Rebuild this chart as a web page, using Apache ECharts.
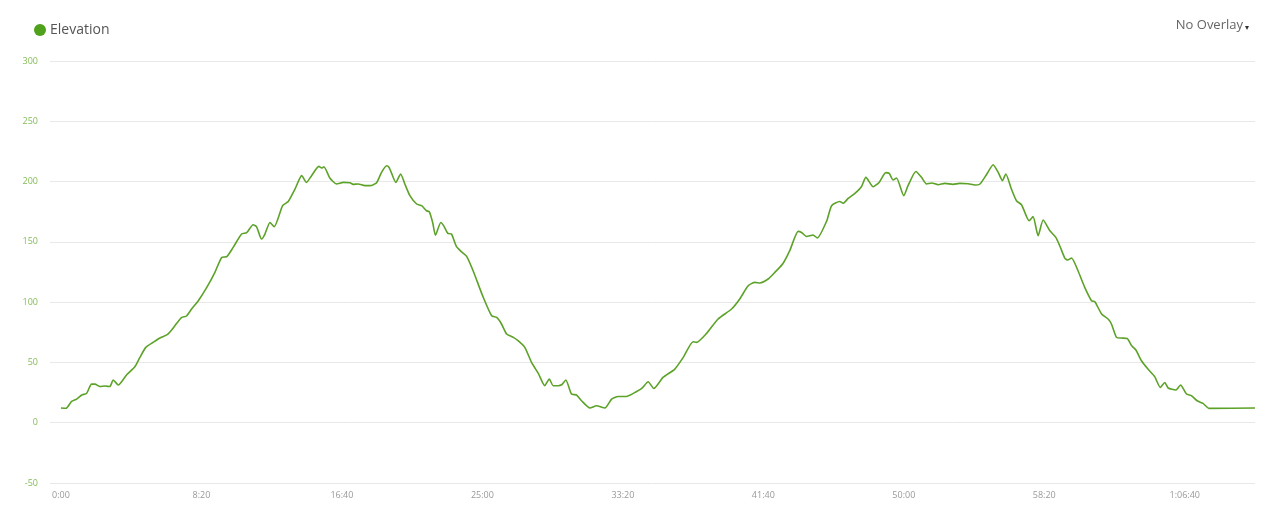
<!DOCTYPE html>
<html>
<head>
<meta charset="utf-8">
<script src="https://cdn.jsdelivr.net/npm/echarts@6/dist/echarts.min.js"></script>
<style>
  html, body { margin: 0; padding: 0; background: #fff; }
  #chart { width: 1280px; height: 512px; }
</style>
</head>
<body>
<div id="chart"></div>
<script>
// elapsed time (seconds) and elevation (m)
var times = [
  0, 18, 38, 56, 74, 91, 109, 121, 139, 157, 174, 186, 204, 234, 263, 281, 302, 328, 352, 378,
  394, 412, 430, 447, 465, 489, 519, 548, 572, 590, 613, 643, 661, 684, 696, 714, 726, 744, 759, 789,
  809, 833, 857, 874, 892, 918, 928, 936, 957, 981, 1005, 1029, 1040, 1058, 1082, 1106, 1124, 1141, 1159, 1168,
  1177, 1192, 1209, 1224, 1242, 1266, 1284, 1301, 1311, 1323, 1333, 1352, 1363, 1377, 1390, 1408, 1427, 1444, 1467, 1503,
  1533, 1551, 1568, 1586, 1610, 1627, 1651, 1675, 1699, 1722, 1738, 1752, 1770, 1782, 1797, 1817, 1835, 1853, 1883, 1906,
  1936, 1960, 1983, 2013, 2037, 2067, 2090, 2110, 2143, 2185, 2215, 2250, 2262, 2298, 2339, 2387, 2416, 2446, 2470, 2488,
  2517, 2541, 2570, 2594, 2624, 2636, 2654, 2677, 2692, 2725, 2743, 2772, 2784, 2802, 2826, 2849, 2865, 2891, 2912, 2936,
  2948, 2962, 2974, 3000, 3015, 3043, 3063, 3081, 3099, 3122, 3146, 3175, 3199, 3229, 3253, 3271, 3294, 3318, 3336, 3351,
  3363, 3383, 3401, 3419, 3446, 3460, 3478, 3496, 3520, 3541, 3555, 3573, 3583, 3597, 3620, 3644, 3668, 3680, 3704, 3727,
  3739, 3757, 3775, 3795, 3811, 3826, 3846, 3869, 3893, 3913, 3929, 3941, 3968, 3985, 4006, 4024, 4044, 4065, 4087, 4250
];
var elevation = [
  12.2, 12, 17.7, 19.6, 23, 24.3, 32, 32, 30, 30.4, 30, 35.4, 31.3, 39.8, 46.4, 54.2, 62.5, 66.6, 70.2, 73,
  76.9, 82.4, 87.3, 88.5, 94.3, 101.2, 112.2, 124.7, 137.1, 137.7, 145.4, 156.5, 157.6, 164.2, 162.6, 152.4, 156.5, 166.1, 162.6, 180,
  183.5, 193.8, 204.9, 199.3, 204.9, 212.6, 211.2, 212.3, 203, 198, 199.3, 199, 197.7, 198, 196.6, 196.8, 199.3, 207.6, 213.1, 211.7,
  206.8, 199.3, 206.3, 198, 188.3, 181.4, 180, 175.8, 175, 166, 155.5, 166, 163, 157, 156.5, 146, 141.5, 138, 126, 104,
  88.7, 87.3, 81.9, 73.6, 70.8, 68, 62.5, 50, 40.9, 30.7, 36.2, 30.7, 30.7, 31.5, 35.4, 23.8, 23, 18.2, 12.2, 14.1,
  12.2, 19.6, 21.8, 21.8, 24.3, 28.4, 34, 28.4, 37.6, 44.5, 54.2, 67.2, 66.6, 74.1, 86, 94.3, 102.6, 113.6, 116.4, 115.9,
  119.2, 124.7, 132.1, 142.7, 158.7, 157.8, 154.5, 155.7, 153.2, 167, 180, 183.5, 182, 186, 190.2, 195.7, 203.5, 195.7, 199.3, 207.4,
  206.8, 201.3, 203, 188.3, 196.6, 208.4, 203.5, 198, 198.8, 197.4, 198.5, 197.7, 198.5, 198.2, 197.1, 198, 205.7, 214, 207.6, 200.7,
  206.3, 193.8, 184.1, 180.8, 167.5, 170.9, 155.1, 168.1, 159.2, 153.7, 146.8, 136.6, 134.9, 136.6, 126, 112.2, 101.2, 100.4, 90.2, 86,
  81.9, 70.8, 70.2, 69.9, 63.9, 60.3, 51.4, 44.5, 38.2, 29.3, 33.4, 28.8, 27.1, 31.3, 23.8, 22.4, 18.2, 16, 11.9, 12.2
];
var timeTicks = [0, 500, 1000, 1500, 2000, 2500, 3000, 3500, 4000];

function fmtTime(sec) {
  var h = Math.floor(sec / 3600);
  var m = Math.floor((sec % 3600) / 60);
  var s = Math.round(sec % 60);
  var ss = s < 10 ? "0" + s : "" + s;
  if (h > 0) {
    return h + ":" + (m < 10 ? "0" + m : m) + ":" + ss;
  }
  return m + ":" + ss;
}

var chart = echarts.init(document.getElementById("chart"));
chart.setOption({
  animation: false,
  textStyle: { fontFamily: "Open Sans" },
  legend: {
    data: ["Elevation"],
    left: 29,
    top: 18,
    icon: "circle",
    itemWidth: 12,
    itemHeight: 12,
    textStyle: { fontSize: 14, color: "#555", fontFamily: "Open Sans", padding: [0, 0, 0, -1] }
  },
  graphic: [
    {
      type: "text",
      right: 37,
      top: 19,
      style: { text: "No Overlay", fontSize: 13, fill: "#666", fontFamily: "Open Sans" }
    },
    {
      type: "text",
      right: 31,
      top: 24,
      style: { text: "▾", fontSize: 8, fill: "#333", fontFamily: "DejaVu Sans" }
    }
  ],
  grid: { left: 50, right: 25, top: 61, bottom: 29 },
  xAxis: {
    type: "value",
    min: -39,
    max: 4250,
    axisLine: { show: false },
    axisTick: { show: false },
    splitLine: { show: false },
    axisLabel: {
      customValues: timeTicks,
      formatter: fmtTime,
      color: "#999",
      fontSize: 9,
      margin: 8
    }
  },
  yAxis: {
    type: "value",
    min: -50,
    max: 300,
    interval: 50,
    axisLine: { show: false },
    axisTick: { show: false },
    splitLine: { lineStyle: { color: "#e8e8e8", width: 1 } },
    axisLabel: { color: "#85bc58", fontSize: 9, margin: 12 }
  },
  series: [
    {
      name: "Elevation",
      type: "line",
      data: times.map(function (t, i) { return [t, elevation[i]]; }),
      showSymbol: false,
      smooth: 0.2,
      itemStyle: { color: "#4fa01a" },
      lineStyle: { color: "#5ca228", width: 1.6 }
    }
  ]
});
</script>
</body>
</html>
